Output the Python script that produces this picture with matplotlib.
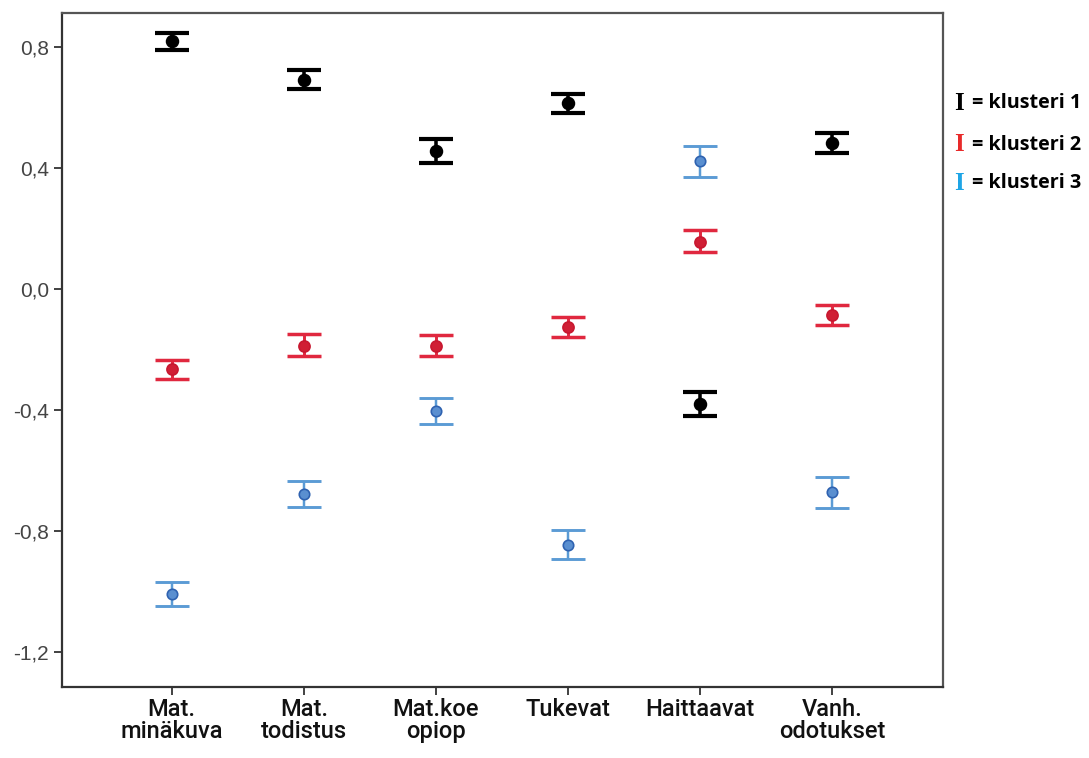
import numpy as np
import matplotlib.pyplot as plt

# muuttujat (x-akseli)
labels = ['Mat.\nminäkuva', 'Mat.\ntodistus', 'Mat.koe\nopiop', 'Tukevat', 'Haittaavat', 'Vanh.\nodotukset']

# klusterikeskiarvot ja luottamusvälit (ala, ylä)
k1_mean = [0.820, 0.693, 0.456, 0.616, -0.380, 0.483]
k1_low = [0.792, 0.662, 0.417, 0.582, -0.418, 0.452]
k1_high = [0.848, 0.726, 0.497, 0.645, -0.341, 0.516]

k2_mean = [-0.264, -0.189, -0.189, -0.123, 0.158, -0.084]
k2_low = [-0.297, -0.220, -0.221, -0.156, 0.125, -0.117]
k2_high = [-0.233, -0.148, -0.150, -0.092, 0.197, -0.051]

k3_mean = [-1.008, -0.677, -0.402, -0.845, 0.425, -0.670]
k3_low = [-1.046, -0.720, -0.445, -0.891, 0.373, -0.723]
k3_high = [-0.969, -0.635, -0.360, -0.795, 0.475, -0.619]

yticks = [0.8, 0.4, 0.0, -0.4, -0.8, -1.2]

plt.rcParams['font.family'] = ['Liberation Sans', 'DejaVu Sans']

fig = plt.figure(figsize=(10.89, 7.58), dpi=100)
ax = fig.add_axes([0.057, 0.094, 0.809, 0.889])

x = np.arange(len(labels))

series = [
    (k1_mean, k1_low, k1_high, 'black', 'black', 'black', 3.0, 8.5),
    (k2_mean, k2_low, k2_high, '#e0283f', '#d01f35', '#c81830', 2.5, 8),
    (k3_mean, k3_low, k3_high, '#5b9bd5', '#5a8fd0', '#2f62b0', 2.1, 7.5),
]

for mean, low, high, ecol, fcol, mec, lw, ms in series:
    mean = np.array(mean)
    yerr = np.vstack([mean - np.array(low), np.array(high) - mean])
    ax.errorbar(x, mean, yerr=yerr, fmt='none', ecolor=ecol, elinewidth=lw * 0.85,
                capsize=12, capthick=lw, zorder=3)
    ax.plot(x, mean, 'o', ms=ms, mfc=fcol, mec=mec, mew=1.2, zorder=4)

ax.set_xlim(-0.83, 5.84)
ax.set_ylim(-1.314, 0.914)
ax.set_yticks(yticks)
ax.set_yticklabels([f'{v:.1f}'.replace('.', ',') for v in yticks],
                   fontsize=15, color='#444444')
ax.set_xticks(x)
ax.set_xticklabels(labels, fontsize=17, fontweight='medium', color='#111111',
                   linespacing=0.95, family=['Roboto', 'Liberation Sans'])

for s in ax.spines.values():
    s.set_color('#555555')
    s.set_linewidth(1.6)
ax.spines['left'].set_color('#333333')
ax.spines['bottom'].set_color('#333333')
ax.tick_params(axis='both', direction='out', length=6, width=1.3, color='#333333')
ax.tick_params(axis='x', pad=2)

# selite oikealla
leg = [('klusteri 1', 'black', 0.864), ('klusteri 2', '#e82a2a', 0.809),
       ('klusteri 3', '#1ea5e6', 0.758)]
for name, col, yy in leg:
    fig.text(0.876, yy, 'I', color=col, fontsize=18, fontweight='bold',
             family='Liberation Serif', va='center')
    fig.text(0.893, yy, '= ' + name, color='black', fontsize=14.2,
             fontweight='bold', family=['Open Sans', 'DejaVu Sans'], va='center')

fig.savefig('out.png', dpi=100, facecolor='white')
